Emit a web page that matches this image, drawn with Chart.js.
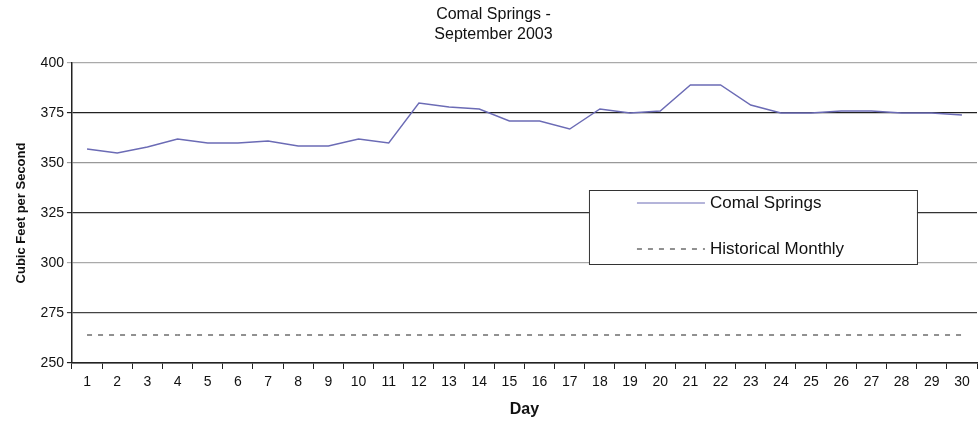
<!DOCTYPE html>
<html>
<head>
<meta charset="utf-8">
<script src="https://cdn.jsdelivr.net/npm/chart.js@4.4.1/dist/chart.umd.min.js"></script>
<style>
html,body{margin:0;padding:0;background:#fff;}
#wrap{width:978px;height:428px;}
</style>
</head>
<body>
<div id="wrap"><canvas id="flowChart" width="978" height="428"></canvas></div>
<script>
// chart data
const days = ["1","2","3","4","5","6","7","8","9","10","11","12","13","14","15","16","17","18","19","20","21","22","23","24","25","26","27","28","29","30"];
const comalFlow = [357,355,358,362,360,360,361,358.5,358.5,362,360,380,378,377,371,371,367,377,375,376,389,389,379,375,375,376,376,375,375,374];
const historicalMonthly = [264,264,264,264,264,264,264,264,264,264,264,264,264,264,264,264,264,264,264,264,264,264,264,264,264,264,264,264,264,264];
const yTicks = [250,275,300,325,350,375,400];
const titleLines = ["Comal Springs -","September 2003"];

const FONT = "'Liberation Sans', Arial, sans-serif";

// boxed legend inside the plot, like the original
const boxLegend = {
id:"boxLegend",
afterDraw(chart){
const ctx = chart.ctx;
const a = chart.chartArea;
const x = a.left + 517, y = a.top + 127, w = 328, h = 74;
ctx.save();
ctx.fillStyle = "#fff";
ctx.fillRect(x,y,w,h);
ctx.strokeStyle = "#333";
ctx.lineWidth = 1;
ctx.strokeRect(x+0.5,y+0.5,w,h);
ctx.font = "17px " + FONT;
ctx.fillStyle = "#111";
ctx.textBaseline = "middle";
chart.data.datasets.forEach((ds,i)=>{
const ly = y + 13 + i*46;
ctx.beginPath();
ctx.strokeStyle = ds.borderColor;
ctx.lineWidth = 1;
ctx.setLineDash(ds.borderDash || []);
ctx.moveTo(x+48,ly);
ctx.lineTo(x+116,ly);
ctx.stroke();
ctx.setLineDash([]);
ctx.fillText(ds.label,x+121,ly);
});
ctx.restore();
}
};

const gridColor = {400:"#aaa",375:"#222",350:"#999",325:"#333",300:"#aaa",275:"#444",250:"#222"};

new Chart(document.getElementById("flowChart"),{
type:"line",
data:{
labels:days,
datasets:[{
label:"Comal Springs",
data:comalFlow,
borderColor:"#6b6bb5",
borderWidth:1.4,
pointRadius:0,
tension:0,
fill:false
},{
label:"Historical Monthly",
data:historicalMonthly,
borderColor:"#222",
borderWidth:1,
borderDash:[5,6],
pointRadius:0,
fill:false
}]
},
plugins:[boxLegend],
options:{
responsive:false,
animation:false,
layout:{padding:{left:10,right:1,top:0,bottom:5}},
plugins:{
legend:{display:false},
tooltip:{enabled:false},
title:{
display:true,
text:titleLines,
color:"#111",
font:{family:FONT,size:16,weight:"normal",lineHeight:1.25},
padding:{top:5,bottom:18}
}
},
scales:{
x:{
offset:true,
grid:{
offset:true,
drawOnChartArea:false,
drawTicks:true,
tickLength:6,
color:"#222"
},
border:{color:"#222",width:1.5},
ticks:{color:"#111",font:{family:FONT,size:14},padding:5,maxRotation:0,autoSkip:false},
title:{display:true,text:"Day",color:"#111",font:{family:FONT,size:16,weight:"bold"},padding:{top:4}}
},
y:{
min:250,
max:400,
afterBuildTicks(axis){
axis.ticks = yTicks.map(v=>({value:v}));
},
grid:{
color:(c)=>gridColor[c.tick.value] || "#999",
lineWidth:1.2,
tickLength:5
},
border:{color:"#222",width:1.5},
ticks:{color:"#111",font:{family:FONT,size:14},padding:3},
title:{display:true,text:"Cubic Feet per Second",color:"#111",font:{family:FONT,size:13,weight:"bold"},padding:{bottom:8}}
}
}
}
});
</script>
</body>
</html>
